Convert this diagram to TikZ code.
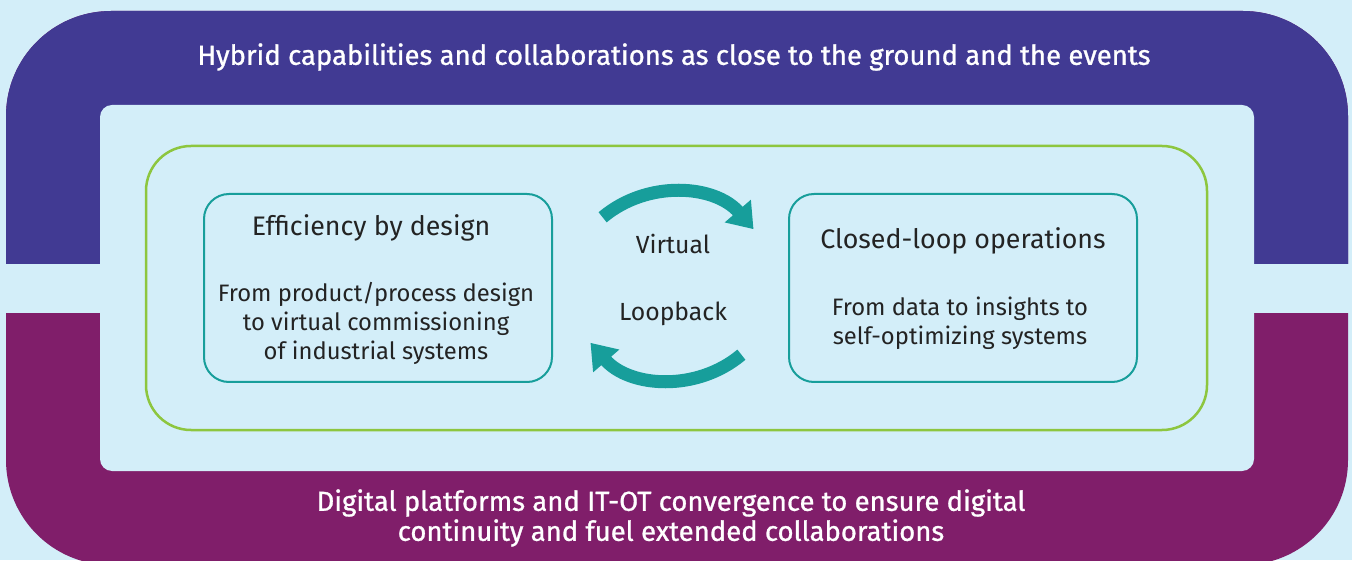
\documentclass[tikz,border=0pt]{standalone}
\usepackage{fontspec}
\setmainfont{Fira Sans}
\newfontfamily\headfont[FakeBold=1]{Fira Sans}
\usetikzlibrary{arrows.meta}
\definecolor{bgc}{HTML}{D3EEF9}
\definecolor{indigo}{HTML}{413A93}
\definecolor{plum}{HTML}{801E6A}
\definecolor{lime}{HTML}{8DC63F}
\definecolor{tealc}{HTML}{179E9B}
\definecolor{inkc}{HTML}{232323}

\begin{document}
\begin{tikzpicture}[x=1pt, y=1pt,
    box/.style={draw=tealc, line width=2pt, rounded corners=25pt, minimum width=348pt, minimum height=188pt, inner sep=0pt},
    head/.style={text=inkc, font=\fontsize{26.8}{30}\selectfont},
    mid/.style={text=inkc, font=\fontsize{24.8}{28}\selectfont},
    body/.style={text=inkc, align=center, font=\fontsize{23.8}{29}\selectfont},
    band/.style={text=white, align=center, font=\headfont\fontsize{27.5}{30}\selectfont},
    turn/.style={draw=tealc, line width=13pt, -{Triangle[width=33pt, length=24pt]}}]
            \fill[bgc] (0,0) rectangle (1352,560);
            \useasboundingbox (0,0) rectangle (1352,560);

            \fill[plum, rounded corners=105pt] (6,-5) rectangle (1348,549);
            \begin{scope}
                \clip (0,296) rectangle (1352,560);
                \fill[indigo, rounded corners=105pt] (6,-5) rectangle (1348,549);
            \end{scope}
            \fill[bgc] (0,247) rectangle (1352,296);

            \node[fill=bgc, rounded corners=12pt, minimum width=1154pt, minimum height=366pt, inner sep=0pt] (panel) at (677,272) {};
            \node[draw=lime, line width=2.5pt, rounded corners=45pt, minimum width=1061pt, minimum height=284pt, inner sep=0pt] (loop) at (676.5,272) {};

            \node[box] (eff) at (378,272) {};
            \node[box] (clo) at (963,272) {};

            \node[head] (effh) at (371,332) {Efficiency by design};
            \node[body] (effb) at (376,237) {From product/process design\\to virtual commissioning\\of industrial systems};
            \node[head] (cloh) at (963,319) {Closed-loop operations};
            \node[body] (clob) at (960,236.5) {From data to insights to\\self-optimizing systems};

            \node[mid] (virt) at (673,316) {Virtual};
            \node[mid] (back) at (673,246) {Loopback};

            \coordinate (vs) at (602.6,342.7);
            \coordinate (ls) at (741.4,205.3);
            \draw[turn] (vs) arc[start angle=130, end angle=41, radius=108pt];
            \draw[turn] (ls) arc[start angle=-50, end angle=-139, radius=108pt];

            \node[band] (hyb) at (674,503) {Hybrid capabilities and collaborations as close to the ground and the events};
            \node[band] (dig) at (671,42) {Digital platforms and IT-OT convergence to ensure digital\\continuity and fuel extended collaborations};
\end{tikzpicture}
\end{document}
